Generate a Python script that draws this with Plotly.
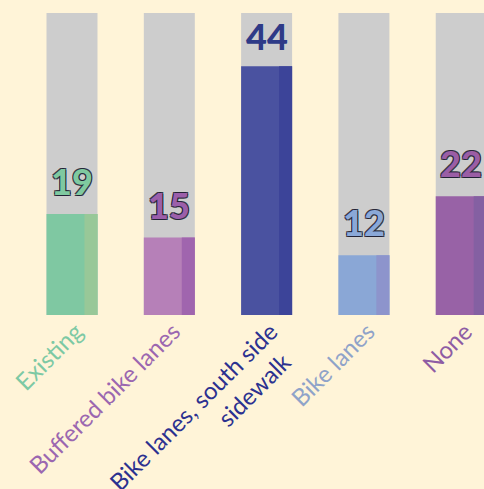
import plotly.graph_objects as go

categories = ["Existing", "Buffered bike lanes", "Bike lanes, south side<br>sidewalk&nbsp;&nbsp;", "Bike lanes", "None"]
values = [19, 15, 44, 12, 22]
track_max = 53
main_colors = ["#7FC8A2", "#B680B8", "#4A52A0", "#8AA7D6", "#9862A6"]
side_colors = ["#98C898", "#A065AE", "#3C4499", "#8D94CC", "#8460A2"]
label_colors = ["#7DC9A4", "#9B67B0", "#2B3190", "#8FA3C9", "#8E5CA4"]
value_colors = ["#7FC9A0", "#9B5FAA", "#2E3A87", "#8AA8D8", "#9A5EA5"]

x = list(range(len(categories)))
bw = 0.524
sw = 0.134

fig = go.Figure()
fig.add_trace(go.Bar(x=x, y=[track_max] * len(x), width=bw, offset=-bw / 2,
                     marker=dict(color="#CDCDCD", line=dict(width=0)), hoverinfo="skip"))
fig.add_trace(go.Bar(x=x, y=values, width=bw, offset=-bw / 2,
                     marker=dict(color=main_colors, line=dict(width=0))))
fig.add_trace(go.Bar(x=x, y=values, width=sw, offset=bw / 2 - sw,
                     marker=dict(color=side_colors, line=dict(width=0))))

outline = "rgba(30,30,50,0.85)"
shadow = f"-1px -1px 0 {outline}, 1px -1px 0 {outline}, -1px 1px 0 {outline}, 1px 1px 0 {outline}"
yshifts = [33, 33, 30, 33, 33]
for i, v in enumerate(values):
    fig.add_annotation(x=i, y=v, text=str(v), showarrow=False, yanchor="middle", yshift=yshifts[i],
                       font=dict(family="Lato", size=36, weight=900, color=value_colors[i],
                                 shadow=shadow if i != 2 else "none"))

ticktext = [f'<span style="color:{c}">{t}</span>' for t, c in zip(categories, label_colors)]

fig.update_layout(
    width=484, height=489,
    margin=dict(l=0, r=0, t=13, b=174, pad=0),
    paper_bgcolor="#FFF4D8", plot_bgcolor="#FFF4D8",
    barmode="overlay", showlegend=False,
    xaxis=dict(range=[-0.74, 4.234], tickvals=x, ticktext=ticktext, tickangle=-45,
               showgrid=False, zeroline=False, showline=False, ticks="", automargin=False,
               ticklabelshift=4, ticklabelstandoff=-3,
               tickfont=dict(family="Lato", size=24)),
    yaxis=dict(range=[1.9, track_max], visible=False, showgrid=False, zeroline=False,
               automargin=False),
)
fig.write_html("out.html", config={"displayModeBar": False},
               post_script="document.body.style.margin='0';document.body.style.background='#FFF4D8';")
